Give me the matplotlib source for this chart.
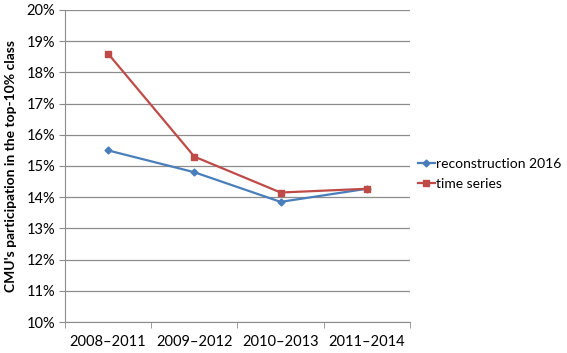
import matplotlib.pyplot as plt
import numpy as np

categories = ['2008–2011', '2009–2012', '2010–2013', '2011–2014']
reconstruction_2016 = [15.5, 14.8, 13.85, 14.27]
time_series = [18.6, 15.3, 14.15, 14.27]
y_ticks = [10, 11, 12, 13, 14, 15, 16, 17, 18, 19, 20]

plt.rcParams['font.family'] = ['Lato', 'DejaVu Sans']

fig = plt.figure(figsize=(5.67, 3.53), dpi=100)
fig.patch.set_facecolor('white')
ax = fig.add_axes([0.1146, 0.0878, 0.6085, 0.8839])

x = np.arange(len(categories))
ax.plot(x, reconstruction_2016, color='#4A7EBB', marker='D', markersize=3.5,
        linewidth=1.6, label='reconstruction 2016')
ax.plot(x, time_series, color='#BE4B48', marker='s', markersize=5,
        linewidth=1.6, label='time series')

ax.set_xlim(-0.5, len(categories) - 0.5)
ax.set_ylim(10, 20)
ax.set_yticks(y_ticks)
ax.set_yticklabels([f'{v}%' for v in y_ticks], fontsize=10.5)
ax.yaxis.grid(True, color='#8C8C8C', linewidth=0.9)
ax.set_axisbelow(True)

ax.set_xticks(x)
ax.set_xticklabels(categories, fontsize=10.5)
ax.set_xticks(np.arange(len(categories) + 1) - 0.5, minor=True)
ax.tick_params(axis='x', which='major', length=0, pad=9)
ax.tick_params(axis='x', which='minor', length=4, color='#8C8C8C')
ax.tick_params(axis='y', length=4, color='#8C8C8C', pad=3)

for s in ['top', 'right']:
    ax.spines[s].set_visible(False)
for s in ['left', 'bottom']:
    ax.spines[s].set_color('#8C8C8C')

ax.set_ylabel("CMU's participation in the top-10% class", fontsize=10,
              fontweight='bold', labelpad=7)

ax.legend(loc='center left', bbox_to_anchor=(418 / 567, 1 - 174 / 353),
          bbox_transform=fig.transFigure, frameon=False,
          fontsize=10, handlelength=1.2, handletextpad=0.1, borderaxespad=0,
          borderpad=0, labelspacing=0.6)

plt.savefig('out.png', dpi=100, facecolor='white')
plt.close()
